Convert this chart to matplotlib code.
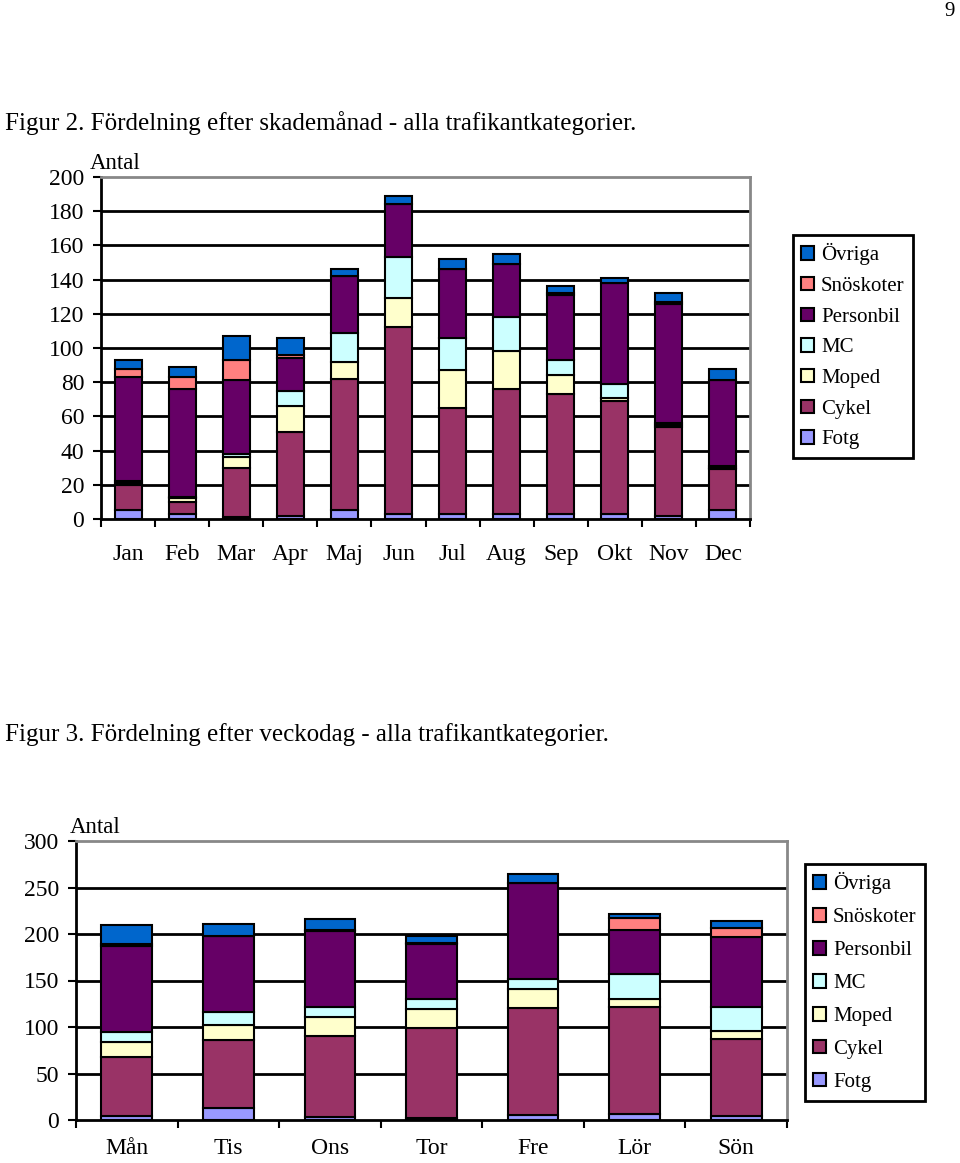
import numpy as np
from matplotlib import pyplot as plt
from matplotlib.patches import Patch

plt.rcParams['font.family'] = ['Liberation Serif', 'DejaVu Serif']

series = ['Fotg', 'Cykel', 'Moped', 'MC', 'Personbil', 'Snöskoter', 'Övriga']
colors = ['#9999FF', '#993366', '#FFFFCC', '#CCFFFF', '#660066', '#FF8080', '#0066CC']

months = ['Jan', 'Feb', 'Mar', 'Apr', 'Maj', 'Jun', 'Jul', 'Aug', 'Sep', 'Okt', 'Nov', 'Dec']
m_fotg      = [5, 3, 1, 2, 5, 3, 3, 3, 3, 3, 2, 5]
m_cykel     = [15, 7, 29, 49, 77, 109, 62, 73, 70, 66, 52, 24]
m_moped     = [1, 2, 6, 15, 10, 17, 22, 22, 11, 2, 1, 1]
m_mc        = [1, 1, 2, 9, 17, 24, 19, 20, 9, 8, 1, 1]
m_personbil = [61, 63, 43, 19, 33, 31, 40, 31, 38, 59, 70, 50]
m_snoskoter = [5, 7, 12, 2, 0, 0, 0, 0, 1, 0, 1, 0]
m_ovriga    = [5, 6, 14, 10, 4, 5, 6, 6, 4, 3, 5, 7]

days = ['Mån', 'Tis', 'Ons', 'Tor', 'Fre', 'Lör', 'Sön']
d_fotg      = [4, 13, 3, 2, 5, 6, 4]
d_cykel     = [64, 73, 87, 97, 115, 116, 83]
d_moped     = [16, 16, 21, 20, 21, 8, 9]
d_mc        = [11, 14, 11, 11, 11, 27, 25]
d_personbil = [92, 82, 81, 59, 103, 47, 76]
d_snoskoter = [2, 0, 1, 1, 0, 13, 9]
d_ovriga    = [21, 13, 12, 8, 10, 5, 8]

month_data = [m_fotg, m_cykel, m_moped, m_mc, m_personbil, m_snoskoter, m_ovriga]
day_data = [d_fotg, d_cykel, d_moped, d_mc, d_personbil, d_snoskoter, d_ovriga]

W, H = 960, 1163
fig = plt.figure(figsize=(W / 100, H / 100), dpi=100)


def stacked(ax, cats, data, ymax, step, xpad):
    x = np.arange(len(cats))
    bottom = np.zeros(len(cats))
    for vals, col in zip(data, colors):
        ax.bar(x, vals, 0.5, bottom=bottom, color=col, edgecolor='black',
               linewidth=1.5, zorder=3)
        bottom += np.array(vals)
    ax.set_xlim(-0.5, len(cats) - 0.5)
    ax.set_ylim(0, ymax)
    ax.set_yticks(np.arange(0, ymax + 1, step))
    ax.set_xticks(np.arange(len(cats) + 1) - 0.5, minor=False)
    ax.set_xticklabels([])
    ax.set_xticks(x, minor=True)
    ax.set_xticklabels(cats, minor=True, fontsize=17)
    ax.tick_params(axis='x', which='minor', length=0, pad=xpad)
    ax.tick_params(axis='x', which='major', direction='out', length=6, width=1.5)
    ax.tick_params(axis='y', direction='out', length=6, width=1.5, labelsize=17, pad=6)
    for yv in np.arange(step, ymax, step):
        ax.axhline(yv, color='black', linewidth=2, zorder=1)
    for s in ['left', 'bottom']:
        ax.spines[s].set_linewidth(2)
        ax.spines[s].set_color('black')
    for s in ['top', 'right']:
        ax.spines[s].set_linewidth(2)
        ax.spines[s].set_color('#888888')


def legend(x0, y0, spacing):
    handles = [Patch(facecolor=c, edgecolor='black', linewidth=1.5, label=s)
               for s, c in zip(series[::-1], colors[::-1])]
    leg = fig.legend(handles=handles, loc='upper left',
                     bbox_to_anchor=(x0 / W, 1 - y0 / H), borderaxespad=0,
                     fontsize=15, handlelength=0.6, handleheight=0.6,
                     handletextpad=0.35, labelspacing=spacing,
                     fancybox=False, edgecolor='black', framealpha=1,
                     borderpad=0.4)
    leg.get_frame().set_linewidth(2)


ax1 = fig.add_axes([101 / W, 1 - 519 / H, (750 - 101) / W, (519 - 177) / H])
stacked(ax1, months, month_data, 200, 20, 18)
ax1.text(-0.017, 1.01, 'Antal', transform=ax1.transAxes, fontsize=16.5,
         ha='left', va='bottom')
legend(793, 235, 0.56)

ax2 = fig.add_axes([76 / W, 1 - 1120 / H, (787 - 76) / W, (1120 - 841) / H])
stacked(ax2, days, day_data, 300, 50, 13)
ax2.text(-0.009, 1.01, 'Antal', transform=ax2.transAxes, fontsize=16.5,
         ha='left', va='bottom')
legend(805, 864, 0.67)

fig.text(5 / W, 1 - 123 / H, 'Figur 2. Fördelning efter skademånad - alla trafikantkategorier.',
         fontsize=18, ha='left', va='center')
fig.text(5 / W, 1 - 735 / H, 'Figur 3. Fördelning efter veckodag - alla trafikantkategorier.',
         fontsize=18, ha='left', va='center')
fig.text(955 / W, 1 - 12 / H, '9', fontsize=15, ha='right', va='center')

fig.savefig('out.png', dpi=100)
